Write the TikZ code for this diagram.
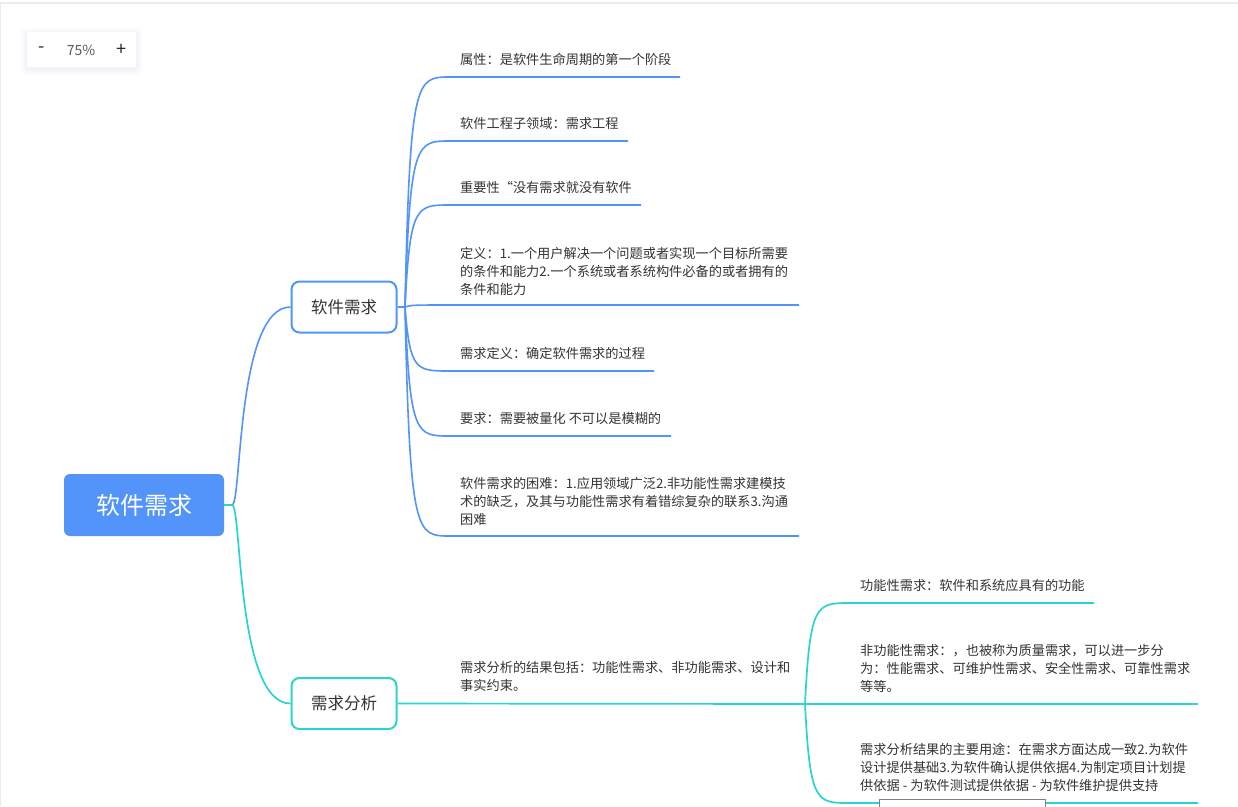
\documentclass[tikz,border=0pt]{standalone}
\usepackage{fontspec}
\setmainfont{Noto Sans CJK SC}
\definecolor{mblue}{RGB}{82,148,250}
\definecolor{mteal}{RGB}{42,212,210}
\definecolor{textc}{RGB}{51,51,51}
\definecolor{ctrlc}{RGB}{90,90,90}
\definecolor{edgec}{RGB}{236,236,238}
\definecolor{shadowc}{RGB}{200,210,235}
\begin{document}
\begin{tikzpicture}[x=1pt,y=-1pt,
  txt/.style={font=\fontsize{13.2}{18}\selectfont, text=textc, inner sep=0pt, anchor=south west, align=left, text depth=0pt},
  rootbox/.style={fill=mblue, rounded corners=6pt, minimum width=160pt, minimum height=62pt, text=white, font=\fontsize{24}{28}\selectfont, inner sep=0pt},
  childbox/.style={fill=white, line width=2pt, rounded corners=8pt, minimum width=105pt, minimum height=51pt, text=textc, font=\fontsize{16.5}{20}\selectfont, inner sep=0pt},
  bl/.style={draw=mblue, line width=1.6pt},
  tl/.style={draw=mteal, line width=1.7pt},
  ctrl/.style={text=ctrlc, font=\fontsize{14}{16}\selectfont, inner sep=0pt},
  ctrlsign/.style={text=black!85, font=\fontsize{18}{20}\selectfont, inner sep=0pt}]
\useasboundingbox (0,0) rectangle (1238,806);
\fill[white] (0,0) rectangle (1238,806);
% window edges
\draw[edgec, line width=1.5pt] (0,3) -- (1238,3);
\draw[edgec, line width=1pt] (0.5,3) -- (0.5,806);
% zoom control
\foreach \s/\o in {6/0.06,4/0.08,2/0.12}{
  \fill[shadowc, opacity=\o, rounded corners=3pt] (27-\s,32-\s+2) rectangle (136+\s,67+\s+2);}
\node[fill=white, minimum width=109pt, minimum height=35pt, inner sep=0pt] (zc) at (81.5,49.5) {};
\node[ctrlsign] (zminus) at (41.5,49.5) {-};
\node[ctrl] (zpct) at (81,50) {75\%};
\node[ctrlsign] (zplus) at (121,49.5) {+};
% main nodes
\node[rootbox] (root) at (144,505) {软件需求};
\node[childbox, draw=mblue] (c1) at (344,307) {软件需求};
\node[childbox, draw=mteal] (c2) at (344,703.5) {需求分析};
% root connectors
\coordinate (r0) at (232,505);
\draw[bl] (root.east) -- (r0) .. controls (242,505) and (236,307) .. (c1.west);
\draw[tl] (root.east) -- (r0) .. controls (242,505) and (236,704) .. (c2.west);
% child 1 branch
\coordinate (b1) at (405,307);
\draw[bl] (c1.east) -- (b1);
% leaves of child 1
\node[txt] (l1) at (460,65) {属性：是软件生命周期的第一个阶段};
\coordinate (l1s) at (450,77); \coordinate (l1e) at (680,77);
\node[txt] (l2) at (460,129) {软件工程子领域：需求工程};
\coordinate (l2s) at (450,141); \coordinate (l2e) at (628,141);
\node[txt] (l3) at (460,193) {重要性“没有需求就没有软件};
\coordinate (l3s) at (450,205); \coordinate (l3e) at (641,205);
\node[txt] (l4) at (460,295) {定义：1.一个用户解决一个问题或者实现一个目标所需要\\的条件和能力2.一个系统或者系统构件必备的或者拥有的\\条件和能力};
\coordinate (l4s) at (450,305); \coordinate (l4e) at (799,305);
\node[txt] (l5) at (460,359) {需求定义：确定软件需求的过程};
\coordinate (l5s) at (450,371); \coordinate (l5e) at (654,371);
\node[txt] (l6) at (460,424) {要求：需要被量化 不可以是模糊的};
\coordinate (l6s) at (450,436); \coordinate (l6e) at (671,436);
\node[txt] (l7) at (460,525) {软件需求的困难：1.应用领域广泛2.非功能性需求建模技\\术的缺乏，及其与功能性需求有着错综复杂的联系3.沟通\\困难};
\coordinate (l7s) at (450,536); \coordinate (l7e) at (799,536);
\foreach \i/\y in {1/77,2/141,3/205,4/305,5/371,6/436,7/536}{
  \draw[bl] (b1) .. controls (410,\y) and (416,\y) .. (l\i s) -- (l\i e);}
% child 2 leaf
\coordinate (b2) at (805,704);
\node[txt] (m1) at (460,691) {需求分析的结果包括：功能性需求、非功能需求、设计和\\事实约束。};
\draw[tl] (c2.east) -- (b2);
% sub leaves
\node[txt] (s1) at (860,591) {功能性需求：软件和系统应具有的功能};
\coordinate (s1s) at (850,603); \coordinate (s1e) at (1094,603);
\node[txt] (s2) at (860,692) {非功能性需求：，也被称为质量需求，可以进一步分\\为：性能需求、可维护性需求、安全性需求、可靠性需求\\等等。};
\coordinate (s2s) at (850,704); \coordinate (s2e) at (1198,704);
\node[txt] (s3) at (860,791) {需求分析结果的主要用途：在需求方面达成一致2.为软件\\设计提供基础3.为软件确认提供依据4.为制定项目计划提\\供依据 - 为软件测试提供依据 - 为软件维护提供支持};
\coordinate (s3s) at (850,803); \coordinate (s3e) at (1198,803);
\foreach \i/\y in {1/603,2/704,3/803}{
  \draw[tl] (b2) .. controls (810,\y) and (816,\y) .. (s\i s) -- (s\i e);}
% partial popup at bottom
\node[draw=gray, fill=white, line width=0.8pt, minimum width=166pt, minimum height=14pt, inner sep=0pt, anchor=north west] (popup) at (879,799) {};
\end{tikzpicture}
\end{document}
